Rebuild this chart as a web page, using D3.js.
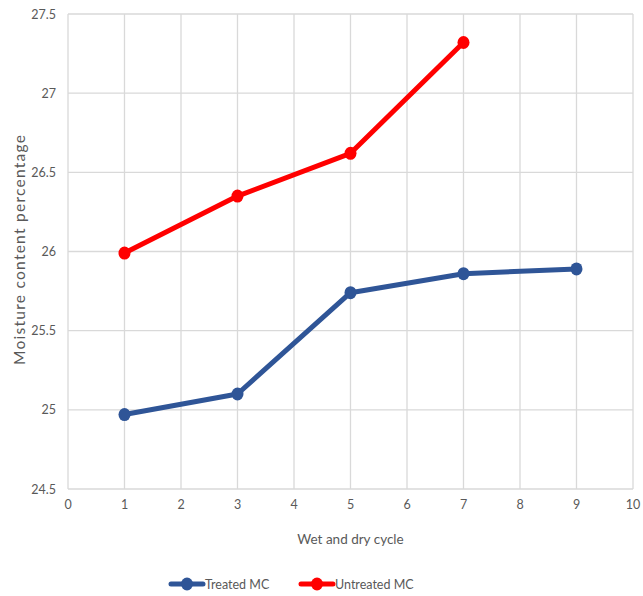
<!DOCTYPE html>
<html><head><meta charset="utf-8">
<script src="https://cdn.jsdelivr.net/npm/d3@7"></script>
<style>body{margin:0;background:#fff}svg{display:block}text{font-family:Lato,"Open Sans",sans-serif}</style>
</head><body>
<svg id="c" width="643" height="596"></svg>
<script>
const cycles = [1, 3, 5, 7, 9];
const treated = [24.97, 25.10, 25.74, 25.86, 25.89];
const untreatedCycles = [1, 3, 5, 7];
const untreated = [25.99, 26.35, 26.62, 27.32];
const xTicks = [0,1,2,3,4,5,6,7,8,9,10];
const yTicks = [24.5,25,25.5,26,26.5,27,27.5];

const svg = d3.select("#c");
const L=68,R=633,T=14,B=489;
const x = d3.scaleLinear().domain([0,10]).range([L,R]);
const y = d3.scaleLinear().domain([24.5,27.5]).range([B,T]);
const grid = "#d9d9d9";

svg.append("g").selectAll("line").data(xTicks).join("line")
  .attr("x1",d=>x(d)).attr("x2",d=>x(d)).attr("y1",T).attr("y2",B)
  .attr("stroke",grid).attr("stroke-width",1.3);
svg.append("g").selectAll("line").data(yTicks).join("line")
  .attr("x1",L).attr("x2",R).attr("y1",d=>y(d)).attr("y2",d=>y(d))
  .attr("stroke",grid).attr("stroke-width",1.3);

svg.append("g").selectAll("text").data(xTicks).join("text")
  .attr("x",d=>x(d)).attr("y",B+20).attr("text-anchor","middle")
  .attr("font-size",12.5).attr("fill","#595959").text(d=>d);
svg.append("g").selectAll("text").data(yTicks).join("text")
  .attr("x",L-12).attr("y",d=>y(d)+4.5).attr("text-anchor","end")
  .attr("font-size",12.5).attr("fill","#595959").text(d=>d);

svg.append("text").attr("x",(L+R)/2).attr("y",544).attr("text-anchor","middle")
  .attr("font-size",13.5).attr("fill","#595959").text("Wet and dry cycle");
svg.append("text").attr("transform","translate(25,250) rotate(-90)")
  .attr("text-anchor","middle").attr("font-size",15.5).attr("font-family","'Open Sans',sans-serif")
  .attr("fill","#595959").attr("textLength",230).attr("lengthAdjust","spacing")
  .text("Moisture content percentage");

const line = d3.line().x(d=>x(d[0])).y(d=>y(d[1]));
const series = [
  {name:"Treated MC", xs:cycles, ys:treated, color:"#2F5597"},
  {name:"Untreated MC", xs:untreatedCycles, ys:untreated, color:"#FF0000"}
];
series.forEach(s=>{
  const pts = s.xs.map((v,i)=>[v,s.ys[i]]);
  svg.append("path").datum(pts).attr("d",line).attr("fill","none")
    .attr("stroke",s.color).attr("stroke-width",5).attr("stroke-linejoin","round");
  svg.append("g").selectAll("ellipse").data(pts).join("ellipse")
    .attr("cx",d=>x(d[0])).attr("cy",d=>y(d[1])).attr("rx",6).attr("ry",6.5)
    .attr("fill",s.color);
});

const leg = [{x:171},{x:301}];
series.forEach((s,i)=>{
  const lx = leg[i].x, ly = 584;
  svg.append("line").attr("x1",lx).attr("x2",lx+32).attr("y1",ly).attr("y2",ly)
    .attr("stroke",s.color).attr("stroke-width",5).attr("stroke-linecap","round");
  svg.append("ellipse").attr("cx",lx+16).attr("cy",ly).attr("rx",6).attr("ry",6.5).attr("fill",s.color);
  svg.append("text").attr("x",lx+34).attr("y",ly+4.5).attr("font-size",12.5)
    .attr("fill","#595959").text(s.name);
});
</script>
</body></html>
